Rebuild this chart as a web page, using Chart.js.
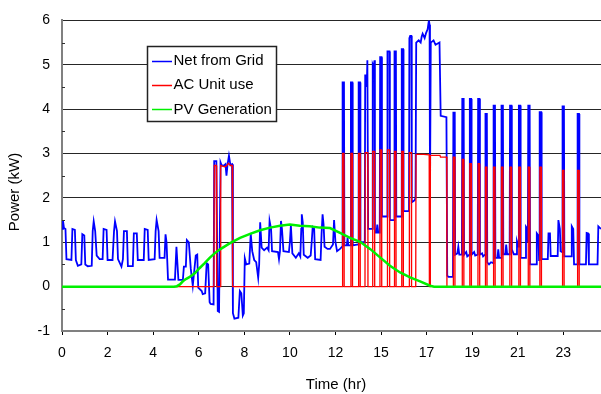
<!DOCTYPE html>
<html>
<head>
<meta charset="utf-8">
<title>Power profile</title>
<script src="https://cdn.jsdelivr.net/npm/chart.js@4.4.1/dist/chart.umd.min.js"></script>
<style>
  html, body { margin: 0; padding: 0; background: #ffffff; overflow: hidden; }
  canvas { display: block; }
</style>
</head>
<body>
<canvas id="chart" width="601" height="394"></canvas>
<script>
// Hour labels printed under the time axis; one label every 46 logged samples.
const timeTicks = ['0', '2', '4', '6', '8', '10', '12', '15', '17', '19', '21', '23'];
const samplesPerTick = 46;
const lastSample = 544;

const seriesNames = ['Net from Grid', 'AC Unit use', 'PV Generation'];
const seriesColors = ['#0000ff', '#ff0000', '#00f000'];
const xTitle = 'Time (hr)';
const yTitle = 'Power (kW)';

// [sample, kW]
const netFromGrid = [
  [0,1.30],[1,1.49],[2,1.32],[3.5,1.30],[4.5,0.62],[9.5,0.60],[10.5,1.30],[13,1.28],[14,0.60],[16,0.47],
  [19.5,0.50],[20.5,1.18],[22.5,1.15],[23.5,0.50],[26,0.46],[30,0.47],[31,1.25],[32,1.47],[33.5,1.25],[35,0.70],
  [38,0.62],[41,0.62],[42,1.30],[45,1.28],[46,0.60],[51,0.60],[52.5,1.25],[53.5,1.47],[55.5,1.25],[56.5,0.62],
  [60,0.45],[61.5,0.62],[62.5,1.25],[65.5,1.25],[66.5,0.46],[71.5,0.46],[72.5,1.20],[75.5,1.20],[76.5,0.60],[82.5,0.60],
  [83.5,1.30],[86.5,1.28],[87.5,0.60],[93.5,0.62],[94.5,1.25],[95.5,1.50],[97.5,1.25],[98.5,0.65],[103.5,0.65],[104.5,1.18],
  [105.5,1.00],[107,0.16],[114,0.16],[115.5,0.90],[117.5,0.15],[122,0.15],[123,0.45],[125,0.45],[126,1.05],[128,1.00],
  [130,0.40],[132,0.02],[135,0.70],[136.5,0.72],[137.5,-0.02],[141,-0.10],[142,-0.17],[144.5,-0.15],[146,0.53],[147.5,0.50],
  [149,-0.35],[150,-0.39],[153,-0.40],[153.6,2.83],[155.8,2.83],[157.2,-0.55],[158.5,-0.57],[160,2.80],[161,2.74],[163,2.72],
  [165,2.76],[166,2.50],[167,2.74],[168.5,2.95],[170,2.74],[171.6,2.76],[172.5,-0.60],[174,-0.72],[178,-0.70],[179.5,-0.10],
  [181,-0.15],[182.5,-0.65],[183.5,-0.60],[184.5,0.64],[186,0.50],[189,0.52],[190.5,1.19],[192,0.80],[194,0.60],[196,0.55],
  [198,0.20],[199,0.50],[200,1.45],[201.5,0.88],[204,0.82],[207,0.88],[208.5,0.82],[209.5,1.48],[211,1.30],[212,0.80],
  [218,0.78],[219,0.62],[220,0.80],[221,1.48],[222,1.30],[223.5,0.80],[229,0.78],[230,1.00],[231,1.38],[232.5,0.75],
  [236,0.65],[239,0.75],[240.5,0.68],[241.5,1.30],[242,1.63],[243,1.45],[244,0.72],[248,0.65],[251,0.70],[252,1.00],
  [253,1.34],[254.5,1.30],[255.5,0.62],[261,0.60],[262,1.20],[263,1.63],[264,1.40],[265,0.90],[268,0.85],[270.5,0.85],
  [273.5,0.95],[274.6,1.50],[276,1.00],[277.6,0.80],[280.6,0.85],[282.8,0.90],[283.2,4.60],[284.6,4.60],[285.0,0.93],[287.5,0.93],
  [288.2,1.10],[289,0.93],[291.2,0.93],[291.6,4.60],[293.0,4.60],[293.4,0.93],[299.0,0.95],[299.4,4.60],[300.8,4.60],[301.2,1.00],
  [305.6,1.00],[306.0,4.76],[307.0,4.76],[307.6,4.50],[308.2,5.10],[308.6,5.10],[309.0,1.30],[313.2,1.30],[313.6,5.00],[314.4,4.95],
  [315.4,5.10],[315.8,1.22],[317.5,1.22],[318.2,1.40],[319,1.22],[320.7,1.22],[321.1,5.17],[322.5,5.17],[322.9,1.58],[328.1,1.58],
  [328.5,5.30],[330.5,5.30],[330.9,1.50],[335.2,1.50],[335.6,5.30],[337.0,5.30],[337.4,1.58],[342.5,1.58],[342.9,5.35],[344.3,5.35],
  [344.7,1.70],[350.2,1.70],[350.6,5.60],[351.4,5.65],[352.6,5.65],[353.0,1.90],[356,1.95],[356.8,2.00],[357.5,5.50],[360,5.55],
  [362,5.50],[363,5.63],[364,5.70],[366,5.60],[367.5,5.72],[369,5.80],[370.3,6.00],[371,5.90],[371.4,2.06],[372.2,5.50],
  [375,5.55],[377,5.45],[381,5.50],[382.2,3.85],[388,3.82],[388.8,0.25],[390,0.22],[394.6,0.22],[395.0,3.92],[396.4,3.92],
  [396.8,0.72],[399,0.75],[400,0.90],[401,0.72],[403.6,0.72],[404.0,4.23],[405.4,4.23],[405.8,0.72],[408,0.78],[409,0.68],
  [411.2,0.72],[411.6,4.23],[413.0,4.23],[413.4,0.72],[416,0.78],[417,0.70],[419.6,0.72],[420.0,4.23],[421.4,4.23],[421.8,0.72],
  [424,0.75],[425,0.68],[427.0,0.72],[427.4,3.89],[428.8,3.89],[429.2,0.55],[431,0.50],[433,0.55],[435.2,0.53],[435.6,4.08],
  [437.0,4.08],[437.4,0.65],[439.5,0.65],[440.3,0.84],[441.2,0.65],[443.2,0.65],[443.6,4.08],[445.0,4.08],[445.4,0.73],[447.5,0.73],
  [448.3,0.95],[449.3,0.73],[451.8,0.73],[452.2,4.08],[453.6,4.08],[454.0,0.84],[456,0.73],[458.5,0.73],[459.2,1.02],[460.7,0.90],
  [461.1,4.08],[462.5,4.08],[462.9,0.65],[467.5,0.65],[468.3,1.35],[469.8,1.30],[470.2,1.00],[470.6,4.08],[472.0,4.08],[472.4,0.50],
  [478.5,0.50],[479.2,1.20],[480.8,1.15],[481.5,0.60],[481.9,0.60],[482.3,3.93],[483.7,3.93],[484.1,0.62],[490.3,0.62],[491,1.20],
  [492.5,1.20],[493.2,0.69],[500.3,0.69],[501,1.50],[502.5,1.30],[503.2,0.80],[504.8,0.78],[505.2,4.06],[506.6,4.06],[507.0,0.68],
  [513.8,0.68],[514.5,1.36],[516,1.30],[516.8,0.50],[520.0,0.50],[520.4,3.89],[521.8,3.89],[522.2,0.50],[528.8,0.50],[529.5,1.21],
  [531,1.20],[531.8,0.50],[540.5,0.50],[541.3,1.36],[544,1.30]
];

// [sample, kW]
const acUnitUse = [
  [0,0],[153.3,0],[153.7,2.73],[155.7,2.73],[156.1,0],[159.8,0],[160.2,2.73],[164,2.70],[166,2.72],[168,2.78],
  [170,2.73],[171.8,2.73],[172.2,0],
  [283.0,0],[283.2,3.00],[284.6,3.00],[284.8,0],
  [291.4,0],[291.6,3.00],[293.0,3.00],[293.2,0],
  [299.2,0],[299.4,3.00],[300.8,3.00],[301.0,0],
  [305.8,0],[306.0,3.02],[308.6,3.02],[308.8,0],
  [313.4,0],[313.6,3.05],[315.4,3.05],[315.6,0],
  [320.9,0],[321.1,3.08],[322.5,3.08],[322.7,0],
  [328.3,0],[328.5,3.08],[330.5,3.08],[330.7,0],
  [335.4,0],[335.6,3.05],[337.0,3.05],[337.2,0],
  [342.7,0],[342.9,3.05],[344.3,3.05],[344.5,0],
  [350.4,0],[350.6,3.02],[352.6,3.02],[352.8,0],
  [357.0,0],[357.3,2.98],[365,2.98],[370.6,2.97],[370.8,0],[371.6,0],[371.8,2.96],[381.5,2.96],[382,2.92],[388.3,2.92],[388.5,0],
  [394.8,0],[395.0,2.92],[396.4,2.92],[396.6,0],
  [403.8,0],[404.0,2.87],[405.4,2.87],[405.6,0],
  [411.4,0],[411.6,2.77],[413.0,2.77],[413.2,0],
  [419.8,0],[420.0,2.77],[421.4,2.77],[421.6,0],
  [427.2,0],[427.4,2.69],[428.8,2.69],[429.0,0],
  [435.4,0],[435.6,2.69],[437.0,2.69],[437.2,0],
  [443.4,0],[443.6,2.69],[445.0,2.69],[445.2,0],
  [452.0,0],[452.2,2.69],[453.6,2.69],[453.8,0],
  [460.9,0],[461.1,2.69],[462.5,2.69],[462.7,0],
  [470.4,0],[470.6,2.69],[472.0,2.69],[472.2,0],
  [482.1,0],[482.3,2.69],[483.7,2.69],[483.9,0],
  [505.0,0],[505.2,2.62],[506.6,2.62],[506.8,0],
  [520.2,0],[520.4,2.62],[521.8,2.62],[522.0,0],
  [544,0]
];

// [sample, kW]
const pvGeneration = [
  [0,0],[113,0],[116,0.01],[119,0.05],[122,0.12],[125,0.17],[129,0.22],[134,0.30],[139,0.42],[144,0.53],
  [149,0.65],[154,0.75],[159.5,0.84],[169.6,0.98],[179.7,1.10],[189.8,1.19],[199.9,1.27],[210,1.33],[220,1.37],[230,1.40],
  [240,1.37],[250,1.36],[260,1.33],[270.5,1.32],[280.6,1.21],[290.7,1.10],[300.8,1.01],[310.9,0.85],[321,0.66],[331,0.47],
  [341.2,0.32],[351.3,0.21],[361.4,0.12],[371.5,0.02],[375.5,0],[544,0]
];

const FONT_FAMILY = '"Liberation Sans", Arial, Helvetica, sans-serif';

// Axis titles, half-unit marks on the value axis and the boxed key.
const decorations = {
  id: 'decorations',
  afterDraw(chart) {
    const { ctx, chartArea, scales } = chart;
    const yScale = scales.y;
    ctx.save();

    ctx.strokeStyle = '#303030';
    ctx.lineWidth = 1;
    for (let v = yScale.min + 0.5; v < yScale.max; v += 1) {
      const py = Math.round(yScale.getPixelForValue(v)) + 0.5;
      ctx.beginPath();
      ctx.moveTo(chartArea.left, py);
      ctx.lineTo(chartArea.left + 3, py);
      ctx.stroke();
    }

    ctx.fillStyle = '#000000';
    ctx.font = '15px ' + FONT_FAMILY;
    ctx.textAlign = 'center';
    ctx.textBaseline = 'middle';
    ctx.fillText(xTitle, 336, 385);
    ctx.save();
    ctx.translate(15, 192);
    ctx.rotate(-Math.PI / 2);
    ctx.fillText(yTitle, 0, 0);
    ctx.restore();

    // key
    const bx = 147.5, by = 46.5, bw = 129, bh = 75;
    ctx.fillStyle = '#ffffff';
    ctx.fillRect(bx, by, bw, bh);
    ctx.strokeStyle = '#222222';
    ctx.lineWidth = 1.5;
    ctx.strokeRect(bx, by, bw, bh);
    ctx.textAlign = 'left';
    seriesNames.forEach((name, i) => {
      const cy = 60.5 + i * 24.3;
      const ly = Math.round(cy) + 0.5;
      ctx.strokeStyle = seriesColors[i];
      ctx.lineWidth = 1.5;
      ctx.beginPath();
      ctx.moveTo(152, ly);
      ctx.lineTo(172, ly);
      ctx.stroke();
      ctx.fillStyle = '#000000';
      ctx.fillText(name, 173.5, cy + 0.5);
    });
    ctx.restore();
  }
};

const tickFont = { family: FONT_FAMILY, size: 14 };

new Chart(document.getElementById('chart').getContext('2d'), {
  type: 'line',
  data: {
    datasets: [
      { label: seriesNames[0], data: netFromGrid, borderColor: seriesColors[0], borderWidth: 1.8, order: 3 },
      { label: seriesNames[1], data: acUnitUse, borderColor: seriesColors[1], borderWidth: 1.3, order: 2 },
      { label: seriesNames[2], data: pvGeneration, borderColor: seriesColors[2], borderWidth: 2.5, order: 1 }
    ]
  },
  options: {
    responsive: false,
    animation: false,
    devicePixelRatio: 1,
    layout: { padding: { top: 16, right: 0, bottom: 0, left: 0 } },
    plugins: { legend: { display: false }, tooltip: { enabled: false } },
    elements: { point: { radius: 0 }, line: { tension: 0, fill: false, borderJoinStyle: 'miter' } },
    scales: {
      x: {
        type: 'linear',
        min: 0,
        max: lastSample,
        afterBuildTicks: (scale) => {
          scale.ticks = timeTicks.map((_, i) => ({ value: i * samplesPerTick }));
        },
        afterFit: (scale) => { scale.height = 63; },
        ticks: {
          autoSkip: false,
          maxRotation: 0,
          padding: 10,
          color: '#000000',
          font: tickFont,
          callback: (value) => timeTicks[Math.round(value / samplesPerTick)]
        },
        grid: { drawOnChartArea: false, drawTicks: true, tickLength: 4, color: '#000000', lineWidth: 1 },
        border: { color: '#808080', width: 2 }
      },
      y: {
        min: -1,
        max: 6,
        afterFit: (scale) => { scale.width = 62; },
        ticks: { stepSize: 1, padding: 12, color: '#000000', font: tickFont },
        grid: {
          drawTicks: false,
          lineWidth: 1,
          color: (c) => (c.tick && c.tick.value === -1) ? 'rgba(0,0,0,0)' : '#262626'
        },
        border: { color: '#808080', width: 2 }
      }
    }
  },
  plugins: [decorations]
});
</script>
</body>
</html>
